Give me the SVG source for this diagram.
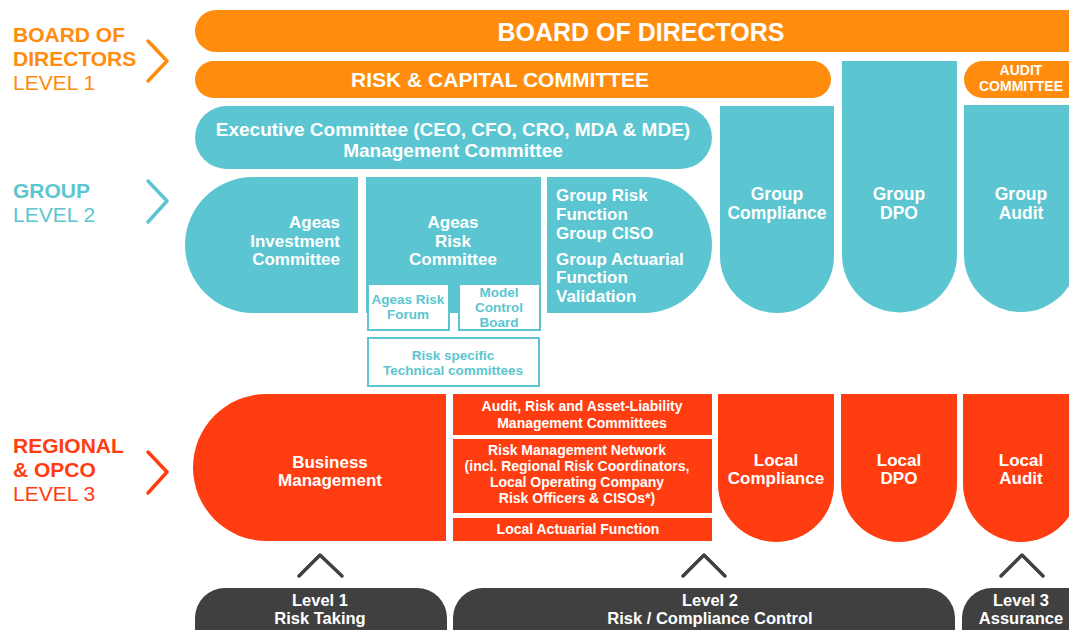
<svg xmlns="http://www.w3.org/2000/svg" width="1069" height="630" viewBox="0 0 1069 630">
<defs>
<style>
.t{font-family:"Liberation Sans",Arial,sans-serif;font-weight:700;fill:#fff}
.c{text-anchor:middle}
.or{fill:#FF8C0C}
.te{fill:#5BC6D1}
.rd{fill:#FF3D10}
.dk{fill:#404040}
.sub{fill:#fff;stroke:#5BC6D1;stroke-width:2}
.subt{font-family:"Liberation Sans",Arial,sans-serif;font-weight:700;fill:#5BC6D1;text-anchor:middle;font-size:13.5px}
.chev{fill:none;stroke-width:3.5;stroke-linecap:round;stroke-linejoin:round}
.up{fill:none;stroke:#404040;stroke-width:3.5;stroke-linecap:round;stroke-linejoin:round}
.lab{font-family:"Liberation Sans",Arial,sans-serif;font-size:21px}
</style>
</defs>
<g id="labels">
<g id="label-board">
<text class="lab" x="13" y="42" fill="#FF8C0C" font-weight="700">BOARD OF</text>
<text class="lab" x="13" y="66" fill="#FF8C0C" font-weight="700">DIRECTORS</text>
<text class="lab" x="13" y="90" fill="#FF8C0C" font-weight="400">LEVEL 1</text>
<polyline class="chev" stroke="#FF8C0C" points="148,41 167,61 148,81"/>
</g>
<g id="label-group">
<text class="lab" x="13" y="198" fill="#5BC6D1" font-weight="700">GROUP</text>
<text class="lab" x="13" y="222" fill="#5BC6D1" font-weight="400">LEVEL 2</text>
<polyline class="chev" stroke="#5BC6D1" points="148,181 167,201 148,222"/>
</g>
<g id="label-regional">
<text class="lab" x="13" y="453" fill="#FF3D10" font-weight="700">REGIONAL</text>
<text class="lab" x="13" y="477" fill="#FF3D10" font-weight="700">&amp; OPCO</text>
<text class="lab" x="13" y="501" fill="#FF3D10" font-weight="400">LEVEL 3</text>
<polyline class="chev" stroke="#FF3D10" points="148,452 167,472 148,493"/>
</g>
</g>
<g id="board">
<rect class="or" x="195" y="10" width="920" height="42" rx="21"/>
<text class="t c" x="641" y="41" font-size="25">BOARD OF DIRECTORS</text>
</g>
<g id="risk-capital">
<rect class="or" x="195" y="61" width="636" height="37" rx="18.5"/>
<text class="t c" x="500" y="87" font-size="21">RISK &amp; CAPITAL COMMITTEE</text>
</g>
<g id="audit-committee">
<rect class="or" x="964" y="61" width="140" height="37" rx="18.5"/>
<text class="t c" x="1021" y="75" font-size="14">AUDIT</text>
<text class="t c" x="1021" y="91" font-size="14">COMMITTEE</text>
</g>
<g id="executive">
<rect class="te" x="195" y="106" width="517" height="63" rx="31.5"/>
<text class="t c" x="453" y="136" font-size="19">Executive Committee (CEO, CFO, CRO, MDA &amp; MDE)</text>
<text class="t c" x="453" y="157" font-size="19">Management Committee</text>
</g>
<g id="investment">
<path class="te" d="M358,177 V313 H253 A68,68 0 0 1 253,177 Z"/>
<text class="t" text-anchor="end" x="340" y="228" font-size="17">Ageas</text>
<text class="t" text-anchor="end" x="340" y="247" font-size="17">Investment</text>
<text class="t" text-anchor="end" x="340" y="265" font-size="17">Committee</text>
</g>
<g id="risk-committee">
<rect class="te" x="366" y="177" width="175" height="136"/>
<text class="t c" x="453" y="228" font-size="17">Ageas</text>
<text class="t c" x="453" y="247" font-size="17">Risk</text>
<text class="t c" x="453" y="265" font-size="17">Committee</text>
</g>
<g id="risk-forum">
<rect class="sub" x="368" y="284" width="81" height="46"/>
<text class="subt" x="408" y="304">Ageas Risk</text>
<text class="subt" x="408" y="319">Forum</text>
</g>
<g id="model-control">
<rect class="sub" x="459" y="284" width="81" height="46"/>
<text class="subt" x="499" y="297">Model</text>
<text class="subt" x="499" y="312">Control</text>
<text class="subt" x="499" y="327">Board</text>
</g>
<g id="technical">
<rect class="sub" x="368" y="338" width="171" height="48"/>
<text class="subt" x="453" y="360">Risk specific</text>
<text class="subt" x="453" y="375">Technical committees</text>
</g>
<g id="group-risk">
<path class="te" d="M547,177 H644 A68,68 0 0 1 644,313 H547 Z"/>
<text class="t" x="556" y="201" font-size="17">Group Risk</text>
<text class="t" x="556" y="220" font-size="17">Function</text>
<text class="t" x="556" y="239" font-size="17">Group CISO</text>
<text class="t" x="556" y="265" font-size="17">Group Actuarial</text>
<text class="t" x="556" y="283" font-size="17">Function</text>
<text class="t" x="556" y="302" font-size="17">Validation</text>
</g>
<g id="group-compliance">
<path class="te" d="M720,106 H834 V256 A57,57 0 0 1 720,256 Z"/>
<text class="t c" x="777" y="200" font-size="17.5">Group</text>
<text class="t c" x="777" y="219" font-size="17.5">Compliance</text>
</g>
<g id="group-dpo">
<path class="te" d="M842,61 H957 V255 A57.5,57.5 0 0 1 842,255 Z"/>
<text class="t c" x="899" y="200" font-size="17.5">Group</text>
<text class="t c" x="899" y="219" font-size="17.5">DPO</text>
</g>
<g id="group-audit">
<path class="te" d="M964,105 H1078 V255 A57,57 0 0 1 964,255 Z"/>
<text class="t c" x="1021" y="200" font-size="17.5">Group</text>
<text class="t c" x="1021" y="219" font-size="17.5">Audit</text>
</g>
<g id="business">
<path class="rd" d="M446,394 V541 H266.5 A73.5,73.5 0 0 1 266.5,394 Z"/>
<text class="t c" x="330" y="468" font-size="17">Business</text>
<text class="t c" x="330" y="486" font-size="17">Management</text>
</g>
<g id="alm">
<rect class="rd" x="453" y="394" width="259" height="41"/>
<text class="t c" x="582" y="411" font-size="14">Audit, Risk and Asset-Liability</text>
<text class="t c" x="582" y="428" font-size="14">Management Committees</text>
</g>
<g id="rmn">
<rect class="rd" x="453" y="439" width="259" height="74"/>
<text class="t c" x="577" y="455" font-size="14">Risk Management Network</text>
<text class="t c" x="577" y="471" font-size="14">(incl. Regional Risk Coordinators,</text>
<text class="t c" x="577" y="487" font-size="14">Local Operating Company</text>
<text class="t c" x="577" y="503" font-size="14">Risk Officers &amp; CISOs*)</text>
</g>
<g id="actuarial">
<rect class="rd" x="453" y="518" width="259" height="23"/>
<text class="t c" x="578" y="534" font-size="14">Local Actuarial Function</text>
</g>
<g id="local-compliance">
<path class="rd" d="M718,394 H834 V484 A58,58 0 0 1 718,484 Z"/>
<text class="t c" x="776" y="466" font-size="17">Local</text>
<text class="t c" x="776" y="484" font-size="17">Compliance</text>
</g>
<g id="local-dpo">
<path class="rd" d="M841,394 H957 V484 A58,58 0 0 1 841,484 Z"/>
<text class="t c" x="899" y="466" font-size="17">Local</text>
<text class="t c" x="899" y="484" font-size="17">DPO</text>
</g>
<g id="local-audit">
<path class="rd" d="M963,394 H1079 V484 A58,58 0 0 1 963,484 Z"/>
<text class="t c" x="1021" y="466" font-size="17">Local</text>
<text class="t c" x="1021" y="484" font-size="17">Audit</text>
</g>
<g id="connectors">
<polyline class="up" points="299,576 320,555 342,576"/>
<polyline class="up" points="683,576 704,555 725,576"/>
<polyline class="up" points="1001,576 1022,555 1043,576"/>
</g>
<g id="level1">
<rect class="dk" x="195" y="588" width="252" height="84" rx="30"/>
<text class="t c" x="320" y="606" font-size="16.5">Level 1</text>
<text class="t c" x="320" y="624" font-size="16.5">Risk Taking</text>
</g>
<g id="level2">
<rect class="dk" x="453" y="588" width="502" height="84" rx="30"/>
<text class="t c" x="710" y="606" font-size="16.5">Level 2</text>
<text class="t c" x="710" y="624" font-size="16.5">Risk / Compliance Control</text>
</g>
<g id="level3">
<rect class="dk" x="962" y="588" width="150" height="84" rx="30"/>
<text class="t c" x="1021" y="606" font-size="16.5">Level 3</text>
<text class="t c" x="1021" y="624" font-size="16.5">Assurance</text>
</g>
</svg>
